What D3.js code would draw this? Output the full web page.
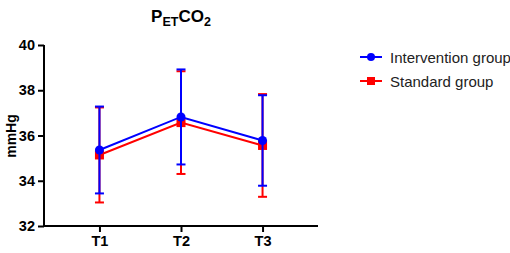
<!DOCTYPE html>
<html>
<head>
    <script src="https://d3js.org/d3.v7.min.js"></script>
    <style>
        body { margin: 0; background: #fff; }
        text { font-family: Arial, "Liberation Sans", sans-serif; }
    </style>
</head>
<body>
    <svg width="510" height="253" id="mainSvg"></svg>
    <script>
        // data
        const timePoints = ["T1", "T2", "T3"];
        const interventionMean = [35.36, 36.82, 35.78];
        const interventionSd = [1.92, 2.10, 2.00];
        const standardMean = [35.14, 36.57, 35.56];
        const standardSd = [2.10, 2.27, 2.27];
        const yTicks = [32, 34, 36, 38, 40];
        const groupNames = ["Intervention group", "Standard group"];

        const series = [
            { name: groupNames[1], mean: standardMean, sd: standardSd, color: "#ff0000", shape: "square" },
            { name: groupNames[0], mean: interventionMean, sd: interventionSd, color: "#0000ff", shape: "circle" }
        ];

        const svg = d3.select("#mainSvg");

        const xScale = d3.scalePoint()
            .domain(timePoints)
            .range([44, 318])
            .padding(0.68);

        const yScale = d3.scaleLinear()
            .domain([32, 40])
            .range([226, 45]);

        // axes
        const xAxis = svg.append("g")
            .attr("transform", "translate(0,226)")
            .call(d3.axisBottom(xScale).tickSize(6).tickPadding(4));
        const yAxis = svg.append("g")
            .attr("transform", "translate(44,0)")
            .call(d3.axisLeft(yScale).tickValues(yTicks).tickSize(6).tickPadding(3));

        [xAxis, yAxis].forEach(a => {
            a.select(".domain").attr("stroke", "#000").attr("stroke-width", 2);
            a.selectAll(".tick line").attr("stroke", "#000").attr("stroke-width", 2);
            a.selectAll(".tick text")
                .attr("font-size", 14.5)
                .attr("font-weight", "bold")
                .attr("fill", "#000");
        });
        // remove outer ticks from the domain path
        xAxis.select(".domain").attr("d", "M44,0H318");
        yAxis.select(".domain").attr("d", "M0,226V45");

        // series
        const line = d3.line()
            .x((d, i) => xScale(timePoints[i]))
            .y(d => yScale(d));

        series.forEach(s => {
            const g = svg.append("g");
            g.append("path")
                .datum(s.mean)
                .attr("d", line)
                .attr("fill", "none")
                .attr("stroke", s.color)
                .attr("stroke-width", 2);

            timePoints.forEach((t, i) => {
                const x = xScale(t);
                const y0 = yScale(s.mean[i] - s.sd[i]);
                const y1 = yScale(s.mean[i] + s.sd[i]);
                g.append("line")
                    .attr("x1", x).attr("x2", x)
                    .attr("y1", y0).attr("y2", y1)
                    .attr("stroke", s.color).attr("stroke-width", 2);
                [y0, y1].forEach(yy => {
                    g.append("line")
                        .attr("x1", x - 4.5).attr("x2", x + 4.5)
                        .attr("y1", yy).attr("y2", yy)
                        .attr("stroke", s.color).attr("stroke-width", 2);
                });
                if (s.shape === "circle") {
                    g.append("circle")
                        .attr("cx", x).attr("cy", yScale(s.mean[i]))
                        .attr("r", 4.5).attr("fill", s.color);
                } else {
                    g.append("rect")
                        .attr("x", x - 4.5).attr("y", yScale(s.mean[i]) - 4.5)
                        .attr("width", 9).attr("height", 9)
                        .attr("fill", s.color);
                }
            });
        });

        // title P_ET CO_2
        const title = svg.append("text")
            .attr("x", 181).attr("y", 22)
            .attr("text-anchor", "middle")
            .attr("font-size", 17)
            .attr("font-weight", "bold")
            .attr("fill", "#000");
        title.append("tspan").text("P");
        title.append("tspan").text("ET").attr("font-size", 12.5).attr("dy", 4);
        title.append("tspan").text("CO").attr("dy", -4);
        title.append("tspan").text("2").attr("font-size", 12.5).attr("dy", 4);

        // y axis label
        svg.append("text")
            .attr("transform", "translate(16,136) rotate(-90)")
            .attr("text-anchor", "middle")
            .attr("font-size", 14)
            .attr("font-weight", "bold")
            .attr("fill", "#000")
            .text("mmHg");

        // legend
        const legend = [series[1], series[0]];
        legend.forEach((s, i) => {
            const y = 57 + i * 24;
            const g = svg.append("g");
            g.append("line")
                .attr("x1", 360).attr("x2", 382)
                .attr("y1", y).attr("y2", y)
                .attr("stroke", s.color).attr("stroke-width", 2);
            if (s.shape === "circle") {
                g.append("circle").attr("cx", 371).attr("cy", y).attr("r", 4).attr("fill", s.color);
            } else {
                g.append("rect").attr("x", 367).attr("y", y - 4).attr("width", 8).attr("height", 8).attr("fill", s.color);
            }
            g.append("text")
                .attr("x", 390).attr("y", y + 5.5)
                .attr("font-size", 15)
                .attr("fill", "#222")
                .text(s.name);
        });
    </script>
</body>
</html>
